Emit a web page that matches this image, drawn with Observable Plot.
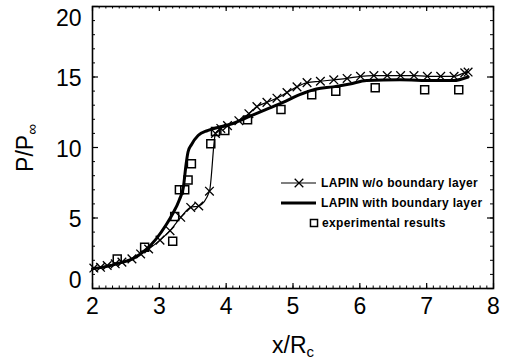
<!DOCTYPE html>
<html>
<head>
<meta charset="utf-8">
<script src="https://cdn.jsdelivr.net/npm/d3@7"></script>
<script src="https://cdn.jsdelivr.net/npm/@observablehq/plot@0.6"></script>
<style>
  html, body { margin: 0; padding: 0; background: #fff; }
  #chart { position: relative; width: 505px; height: 362px; }
</style>
</head>
<body>
<div id="chart"></div>
<script>
// LAPIN with boundary layer (thick solid line)
const withBL_x = [2.0, 2.2, 2.4, 2.6, 2.8, 2.95, 3.1, 3.2, 3.3, 3.36, 3.4, 3.43, 3.48, 3.58, 3.72, 3.9, 4.1, 4.35, 4.6, 4.85, 5.1, 5.35, 5.6, 5.85, 6.1, 6.6, 7.1, 7.4, 7.62];
const withBL_y = [1.4, 1.55, 1.8, 2.1, 2.75, 3.5, 4.5, 5.3, 6.3, 7.2, 8.8, 9.7, 10.2, 10.85, 11.2, 11.45, 11.7, 12.2, 12.7, 13.2, 13.75, 14.15, 14.3, 14.5, 14.75, 14.8, 14.75, 14.75, 15.0];

// LAPIN w/o boundary layer (thin line with x markers)
const noBL_x = [2.02, 2.12, 2.22, 2.34, 2.44, 2.59, 2.72, 2.84, 3.01, 3.16, 3.32, 3.47, 3.59, 3.75, 3.84, 3.92, 4.02, 4.19, 4.34, 4.46, 4.61, 4.76, 4.91, 5.06, 5.21, 5.41, 5.61, 5.81, 6.01, 6.21, 6.41, 6.61, 6.81, 7.01, 7.21, 7.41, 7.57, 7.62];
const noBL_y = [1.45, 1.5, 1.63, 1.75, 1.87, 2.1, 2.45, 2.8, 3.43, 4.1, 5.05, 5.75, 5.85, 6.9, 11.0, 11.35, 11.55, 11.9, 12.4, 12.9, 13.2, 13.5, 13.9, 14.3, 14.6, 14.7, 14.8, 14.9, 15.05, 15.1, 15.1, 15.1, 15.1, 15.05, 15.05, 15.05, 15.3, 15.35];

// experimental results (open squares)
const exp_x = [2.37, 2.78, 3.20, 3.23, 3.30, 3.38, 3.43, 3.48, 3.77, 3.84, 3.98, 4.32, 4.82, 5.28, 5.64, 6.23, 6.97, 7.48];
const exp_y = [2.1, 2.93, 3.35, 5.1, 7.0, 7.0, 7.7, 8.85, 10.26, 11.13, 11.2, 11.96, 12.7, 13.74, 13.99, 14.23, 14.09, 14.09];

const xTicks = [2, 3, 4, 5, 6, 7, 8];
const yTicks = [0, 5, 10, 15, 20];
const legendLabels = ["LAPIN w/o boundary layer", "LAPIN with boundary layer", "experimental results"];

const withBL = withBL_x.map((x, i) => ({x, y: withBL_y[i]}));
const noBL = noBL_x.map((x, i) => ({x, y: noBL_y[i]}));
const exp = exp_x.map((x, i) => ({x, y: exp_y[i]}));

const xMinor = d3.range(20, 81).map(d => d / 10);
const yMinor = d3.range(0, 21);

const font = "'Liberation Sans', Arial, sans-serif";
const W = 505, H = 362, mL = 92, mR = 12, mT = 6, mB = 74;
const pw = W - mL - mR, ph = H - mT - mB;

const svg = Plot.plot({
  width: W,
  height: H,
  marginLeft: mL,
  marginRight: mR,
  marginTop: mT,
  marginBottom: mB,
  x: {domain: [2, 8], axis: null},
  y: {domain: [0, 20], axis: null},
  style: {fontFamily: font, background: "white", color: "black"},
  marks: [
    // inward ticks on all four sides
    Plot.tickX(xMinor, {x: d => d, insetTop: ph - 2.5, stroke: "black", strokeWidth: 1}),
    Plot.tickX(xMinor, {x: d => d, insetBottom: ph - 2.5, stroke: "black", strokeWidth: 1}),
    Plot.tickX(xTicks, {x: d => d, insetTop: ph - 5, stroke: "black", strokeWidth: 1.2}),
    Plot.tickX(xTicks, {x: d => d, insetBottom: ph - 5, stroke: "black", strokeWidth: 1.2}),
    Plot.tickY(yMinor, {y: d => d, insetRight: pw - 3, stroke: "black", strokeWidth: 1}),
    Plot.tickY(yMinor, {y: d => d, insetLeft: pw - 3, stroke: "black", strokeWidth: 1}),
    Plot.tickY(yTicks, {y: d => d, insetRight: pw - 6, stroke: "black", strokeWidth: 1.2}),
    Plot.tickY(yTicks, {y: d => d, insetLeft: pw - 6, stroke: "black", strokeWidth: 1.2}),
    Plot.frame({stroke: "black", strokeWidth: 1.6}),
    // tick labels
    Plot.text(xTicks, {x: d => d, frameAnchor: "bottom", dy: 25, fontSize: 23, fill: "black"}),
    Plot.text(yTicks.filter(d => d > 0 && d < 20), {y: d => d, frameAnchor: "left", dx: -11, dy: 2, textAnchor: "end", fontSize: 23, fill: "black"}),
    Plot.text(yTicks.filter(d => d === 20), {y: d => d, frameAnchor: "left", dx: -11, dy: 12, textAnchor: "end", fontSize: 23, fill: "black"}),
    Plot.text(yTicks.filter(d => d === 0), {y: d => d, frameAnchor: "left", dx: -11, dy: -8, textAnchor: "end", fontSize: 23, fill: "black"}),
    // data
    Plot.line(noBL, {x: "x", y: "y", stroke: "black", strokeWidth: 1.2, curve: "monotone-x"}),
    Plot.dot(noBL, {x: "x", y: "y", symbol: "times", r: 4, stroke: "black", strokeWidth: 1.3}),
    Plot.line(withBL, {x: "x", y: "y", stroke: "black", strokeWidth: 3, curve: "monotone-x"}),
    Plot.dot(exp, {x: "x", y: "y", symbol: "square", r: 4.5, stroke: "black", fill: "none", strokeWidth: 1.5})
  ]
});

const s = d3.select(svg);

// axis titles
const xt = s.append("text")
  .attr("x", 293).attr("y", 353)
  .attr("text-anchor", "middle")
  .attr("font-family", font).attr("font-size", 23).attr("fill", "black")
  .text("x/R");
xt.append("tspan").attr("font-size", 15).attr("dy", 4).text("c");

const yt = s.append("text")
  .attr("transform", "translate(33,148) rotate(-90)")
  .attr("text-anchor", "middle")
  .attr("font-family", font).attr("font-size", 23).attr("fill", "black")
  .text("P/P");
yt.append("tspan").attr("font-size", 15).attr("dy", 4).text("∞");

// legend
const lg = s.append("g").attr("font-family", font).attr("font-size", 12).attr("font-weight", "bold").attr("letter-spacing", 0.35).attr("fill", "black").attr("text-anchor", "start");
const rows = [183, 203, 223];
lg.append("line").attr("x1", 281).attr("x2", 316).attr("y1", rows[0]).attr("y2", rows[0]).attr("stroke", "black").attr("stroke-width", 1.2);
lg.append("path").attr("d", d3.symbol(d3.symbolTimes, 50)()).attr("transform", `translate(299,${rows[0]})`).attr("stroke", "black").attr("stroke-width", 1.3).attr("fill", "none");
lg.append("line").attr("x1", 281).attr("x2", 316).attr("y1", rows[1]).attr("y2", rows[1]).attr("stroke", "black").attr("stroke-width", 3);
lg.append("path").attr("d", d3.symbol(d3.symbolSquare, 50)()).attr("transform", `translate(314,${rows[2]})`).attr("stroke", "black").attr("stroke-width", 1.5).attr("fill", "none");
lg.append("text").attr("x", 321).attr("y", rows[0]).attr("dy", "0.35em").attr("text-anchor", "start").text(legendLabels[0]);
lg.append("text").attr("x", 321).attr("y", rows[1]).attr("dy", "0.35em").attr("text-anchor", "start").text(legendLabels[1]);
lg.append("text").attr("x", 322).attr("y", rows[2]).attr("dy", "0.35em").attr("text-anchor", "start").text(legendLabels[2]);

document.getElementById("chart").appendChild(svg);
</script>
</body>
</html>
